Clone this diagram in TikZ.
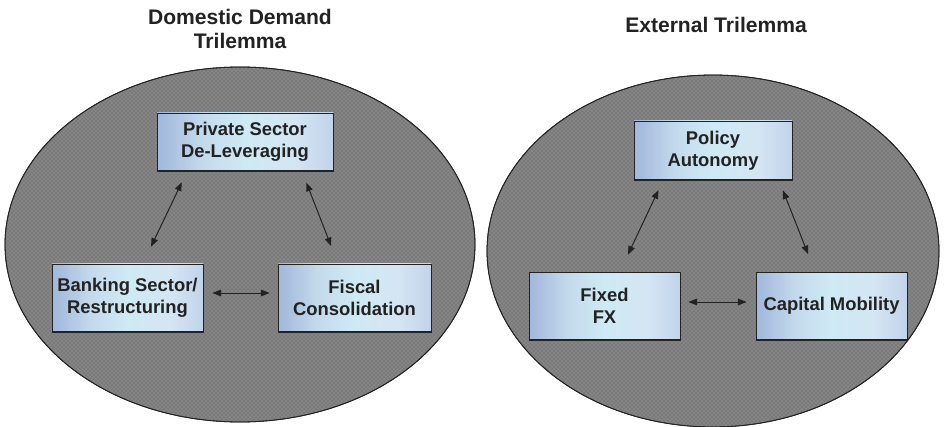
\documentclass[tikz,border=0pt]{standalone}
\usepackage{fontspec}
\setmainfont{Liberation Sans}
\usetikzlibrary{arrows.meta,patterns,calc}

\definecolor{inkdark}{RGB}{34,34,34}
\definecolor{ovalfill}{RGB}{122,122,122}
\definecolor{ovaldots}{RGB}{172,172,172}
\definecolor{shA}{RGB}{134,160,206}
\definecolor{shA2}{RGB}{146,170,212}
\definecolor{shB}{RGB}{166,188,222}
\definecolor{shC}{RGB}{196,218,236}
\definecolor{shD}{RGB}{206,234,244}
\definecolor{shE}{RGB}{212,230,243}
\definecolor{shF}{RGB}{190,208,232}
\definecolor{shG}{RGB}{206,226,236}
\definecolor{shH}{RGB}{164,190,182}
\definecolor{shI}{RGB}{150,170,172}

% left-to-right steel blue to pale cyan face of the boxes
\pgfdeclarehorizontalshading{boxface}{100bp}{%
  color(0bp)=(shA); color(14bp)=(shA2); color(27bp)=(shB); color(38bp)=(shC);
  color(50bp)=(shD); color(64bp)=(shE); color(77bp)=(shF); color(86bp)=(shG);
  color(93bp)=(shH); color(100bp)=(shI)}

\tikzset{
  oval/.style={draw=inkdark, line width=0.6pt, fill=ovalfill},
  ovaldots/.style={pattern=crosshatch dots, pattern color=ovaldots},
  box/.style={draw=inkdark, line width=0.6pt, shading=boxface, rectangle,
    align=center, text=inkdark, font=\bfseries\fontsize{13.8}{16.5}\selectfont,
    inner sep=0pt},
  title/.style={align=center, text=inkdark, font=\bfseries\fontsize{15.8}{18.5}\selectfont},
  link/.style={draw=inkdark, line width=0.75pt,
    {Triangle[length=6.5pt,width=5pt]}-{Triangle[length=6.5pt,width=5pt]}},
  base/.style={draw=inkdark, line width=1.5pt}
}

\begin{document}
\begin{tikzpicture}[x=0.75pt,y=-0.75pt]
\useasboundingbox (0,0) rectangle (944,427);

% the two ovals
\fill[oval] (240,244.5) ellipse [x radius=235, y radius=177.5];
\fill[ovaldots] (240,244.5) ellipse [x radius=234, y radius=176.5];
\draw[draw=inkdark, line width=0.6pt] (240,244.5) ellipse [x radius=235, y radius=177.5];
\fill[oval] (713,251) ellipse [x radius=226, y radius=176];
\fill[ovaldots] (713,251) ellipse [x radius=225, y radius=175];
\draw[draw=inkdark, line width=0.6pt] (713,251) ellipse [x radius=226, y radius=176];

% headings
\node[title] (tleft) at (240,29) {Domestic Demand\\Trilemma};
\node[title] (tright) at (716,25) {External Trilemma};

% domestic demand trilemma
\node[box, minimum width=132pt, minimum height=43.5pt] (P) at (245,142) {Private Sector\\De-Leveraging};
\node[box, minimum width=113.25pt, minimum height=51pt] (B) at (127.5,298) {Banking Sector/\\Restructuring};
\node[box, minimum width=114.75pt, minimum height=51pt] (F) at (354.5,298) {Fiscal\\Consolidation};

% external trilemma
\node[box, minimum width=118.5pt, minimum height=44.25pt] (PA) at (713,150.5) {Policy\\Autonomy};
\node[box, minimum width=113.25pt, minimum height=51pt] (FX) at (604.5,306) {Fixed\\FX};
\node[box, minimum width=113.25pt, minimum height=51pt] (CM) at (831.5,306) {Capital Mobility};

% heavier lower edge of each box
\foreach \n in {P,B,F,PA,FX,CM}
  \draw[base] (\n.south west) -- (\n.south east);

% connectors
\draw[link, shorten <=9pt, shorten >=14pt] ([xshift=-43.5pt]P.south) -- ([xshift=11.6pt]B.north);
\draw[link, shorten <=9pt, shorten >=14pt] ([xshift=42.75pt]P.south) -- ([xshift=-12.4pt]F.north);
\draw[link, shorten <=6.75pt, shorten >=6pt] ([yshift=3.75pt]B.east) -- ([yshift=3.75pt]F.west);

\draw[link, shorten <=8pt, shorten >=14pt] ([xshift=-37.5pt]PA.south) -- ([xshift=11.6pt]FX.north);
\draw[link, shorten <=8pt, shorten >=14pt] ([xshift=49.5pt]PA.south) -- ([xshift=-12.4pt]CM.north);
\draw[link, shorten <=6pt, shorten >=6.75pt] ([yshift=3pt]FX.east) -- ([yshift=3pt]CM.west);
\end{tikzpicture}
\end{document}
